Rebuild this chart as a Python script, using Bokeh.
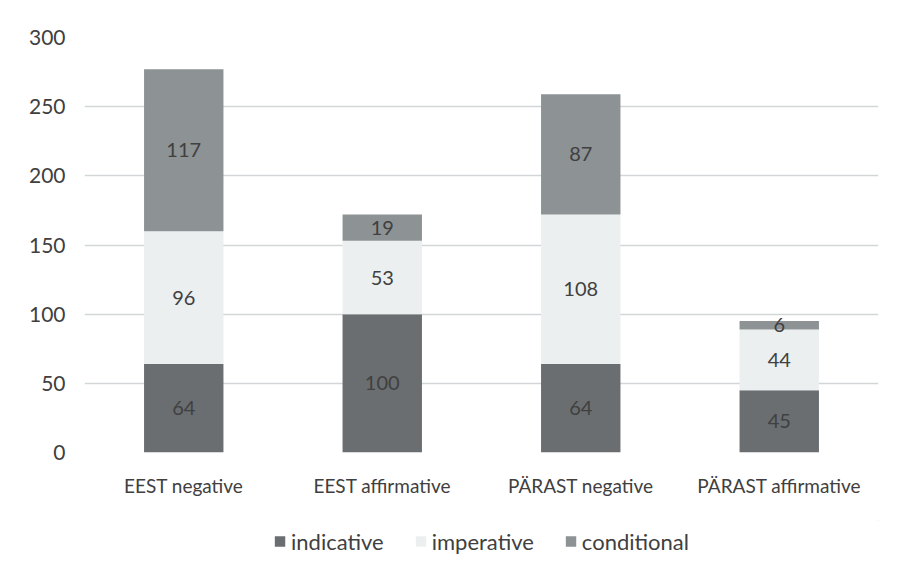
from bokeh.plotting import figure
from bokeh.layouts import column
from bokeh.models import FactorRange, Range1d, Legend, LegendItem, ColumnDataSource, FixedTicker
from bokeh.core.properties import value
from bokeh.embed import file_html
from bokeh.resources import INLINE

categories = ["EEST negative", "EEST affirmative", "PÄRAST negative", "PÄRAST affirmative"]
indicative = [64, 100, 64, 45]
imperative = [96, 53, 108, 44]
conditional = [117, 19, 87, 6]
series_names = ["indicative", "imperative", "conditional"]
colors = ["#6a6e70", "#eceff0", "#8d9294"]
y_ticks = [0, 50, 100, 150, 200, 250, 300]

FONT = "Lato"
TEXT_COLOR = "#404040"

p = figure(x_range=FactorRange(*categories, range_padding=0), y_range=Range1d(0, 300),
           width=893, height=520, output_backend="svg", toolbar_location=None,
           min_border_left=84, min_border_right=15, min_border_top=37, min_border_bottom=68)
p.outline_line_color = None

src = ColumnDataSource(dict(cat=categories, indicative=indicative,
                            imperative=imperative, conditional=conditional))
renderers = p.vbar_stack(series_names, x="cat", width=0.4, source=src,
                         color=colors, line_color=None)

# data labels
all_series = [indicative, imperative, conditional]
for i, name in enumerate(series_names):
    lows = [sum(v[j] for v in all_series[:i]) for j in range(len(categories))]
    vals = all_series[i]
    mids = [lo + v / 2 for lo, v in zip(lows, vals)]
    p.text(x=categories, y=mids, text=[str(v) for v in vals],
           text_font=value(FONT), text_font_size="20px", text_color=TEXT_COLOR,
           text_align="center", text_baseline="middle")

p.yaxis.ticker = FixedTicker(ticks=y_ticks)
p.yaxis.axis_line_color = None
p.yaxis.major_tick_line_color = None
p.yaxis.minor_tick_line_color = None
p.yaxis.major_label_standoff = 13
p.yaxis.major_label_text_font = FONT
p.yaxis.major_label_text_font_size = "21px"
p.yaxis.major_label_text_color = TEXT_COLOR

p.xaxis.axis_line_color = None
p.xaxis.major_tick_line_color = None
p.xaxis.major_label_standoff = 15
p.xaxis.major_label_text_font = FONT
p.xaxis.major_label_text_font_size = "19px"
p.xaxis.major_label_text_color = TEXT_COLOR

p.xgrid.grid_line_color = None
p.ygrid.grid_line_color = "#d3d6d8"
p.ygrid.grid_line_width = 1.5

# legend in its own strip below the chart
pl = figure(width=893, height=42, output_backend="svg", toolbar_location=None,
            x_range=Range1d(0, 1), y_range=Range1d(0, 1),
            min_border_left=44, min_border_right=0, min_border_top=0, min_border_bottom=0)
pl.axis.visible = False
pl.grid.visible = False
pl.outline_line_color = None
dummy = [pl.vbar(x=[5], top=[5], bottom=[4], width=0.1, color=c, line_color=None) for c in colors]
legend = Legend(items=[LegendItem(label=n, renderers=[r]) for n, r in zip(series_names, dummy)],
                orientation="horizontal", location="center",
                glyph_width=13, glyph_height=13, label_standoff=5, spacing=30,
                label_text_font=FONT, label_text_font_size="22px", label_text_color=TEXT_COLOR,
                border_line_color=None, background_fill_alpha=0, padding=0, margin=0)
pl.add_layout(legend, "center")

layout = column(p, pl, spacing=0)
open("out.html", "w").write(file_html(layout, INLINE))
